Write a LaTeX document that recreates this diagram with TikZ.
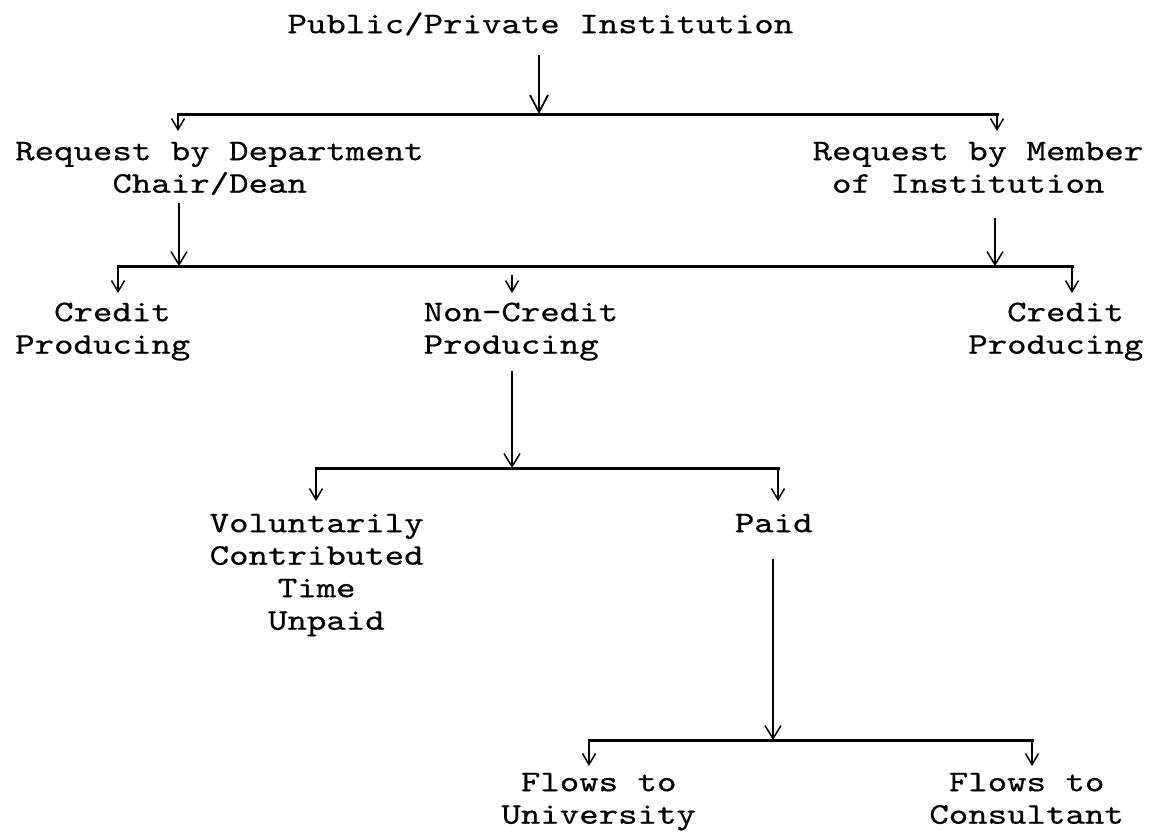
\documentclass[tikz,border=0pt]{standalone}
\usepackage{fontspec}
\newfontfamily\twfont{lmmono10-regular.otf}[FakeStretch=1.235,FakeBold=0.5]
\usetikzlibrary{arrows.meta}
\newcommand{\fl}{\rule{0pt}{21pt}}
\newcommand{\ind}[1]{\hspace*{#1pt}}
\begin{document}
\begin{tikzpicture}[x=1pt,y=-1pt,
  lbl/.style={inner sep=0pt,align=left,anchor=north west,
    font=\twfont\fontsize{30}{32.5}\selectfont},
  bar/.style={line width=3pt,line cap=rect},
  arr/.style={line width=1.5pt,-{Straight Barb[length=13pt,width=16pt,line width=1.5pt]}},
  bigarr/.style={line width=1.5pt,-{Straight Barb[length=17pt,width=18pt,line width=1.8pt]}},
  drop/.style={line width=2pt,-{Straight Barb[length=11pt,width=13pt,line width=1.5pt]}}]
\useasboundingbox (0,0) rectangle (1152,833);
% nodes (north west = cell start, baseline - 21)
\node[lbl] (title) at (287.3,12) {\fl Public/Private Institution};
\node[lbl] (lreq) at (15,139) {\fl Request by Department\\\ind{97.25}Chair/Dean};
\node[lbl] (rreq) at (812.45,139) {\fl Request by Member\\\ind{19.45}of Institution};
\node[lbl] (lcred) at (15,300) {\fl\ind{38.9}Credit\\Producing};
\node[lbl] (ncred) at (423.45,300) {\fl Non-Credit\\Producing};
\node[lbl] (rcred) at (968.05,300) {\fl\ind{38.9}Credit\\Producing};
\node[lbl] (vol) at (209.5,511) {\fl Voluntarily\\Contributed\\\ind{68.1}Time\\\ind{58.35}Unpaid};
\node[lbl] (paid) at (734.65,511) {\fl Paid};
\node[lbl] (fu) at (501.25,770) {\fl\ind{19.45}Flows to\\University};
\node[lbl] (fc) at (929.15,770) {\fl\ind{19.45}Flows to\\Consultant};
% bar junctions
\coordinate (b1) at (539,114);
\coordinate (b1l) at (178,114);
\coordinate (b1r) at (997,114);
\coordinate (b2l) at (118,266);
\coordinate (b2r) at (1072,266);
\coordinate (b2a) at (179,266);
\coordinate (b2b) at (995,266);
\coordinate (b2m) at (512,275);
\coordinate (b3) at (512,468);
\coordinate (b3l) at (316,468);
\coordinate (b3r) at (778,468);
\coordinate (b4) at (773,740);
\coordinate (b4l) at (589,740);
\coordinate (b4r) at (1032,740);
% bars
\draw[bar] (b1l) -- (b1r);
\draw[bar] (b2l) -- (b2r);
\draw[bar] (b3l) -- (b3r);
\draw[bar] (b4l) -- (b4r);
% arrows into bars
\draw[bigarr] (title.south -| b1) ++(0,19.5) -- (b1);
\draw[arr] (lreq.south -| b2a) ++(0,8) -- (b2a);
\draw[arr] (rreq.south -| b2b) ++(0,25) -- (b2b);
\draw[arr] (ncred.south -| b3) ++(0,10) -- (b3);
\draw[arr] (paid.south -| b4) ++(0,26) -- (b4);
% drops
\draw[drop] (b1l) -- ([yshift=8pt]lreq.north -| b1l);
\draw[drop] (b1r) -- ([yshift=8pt]rreq.north -| b1r);
\draw[drop] (b2l) -- ([yshift=7pt]lcred.north -| b2l);
\draw[drop] (b2m) -- ([yshift=7pt]ncred.north -| b2m);
\draw[drop] (b2r) -- ([yshift=7pt]rcred.north -| b2r);
\draw[drop] (b3l) -- ([yshift=10pt]vol.north -| b3l);
\draw[drop] (b3r) -- ([yshift=10pt]paid.north -| b3r);
\draw[drop] (b4l) -- ([yshift=4pt]fu.north -| b4l);
\draw[drop] (b4r) -- ([yshift=4pt]fc.north -| b4r);
\end{tikzpicture}
\end{document}
